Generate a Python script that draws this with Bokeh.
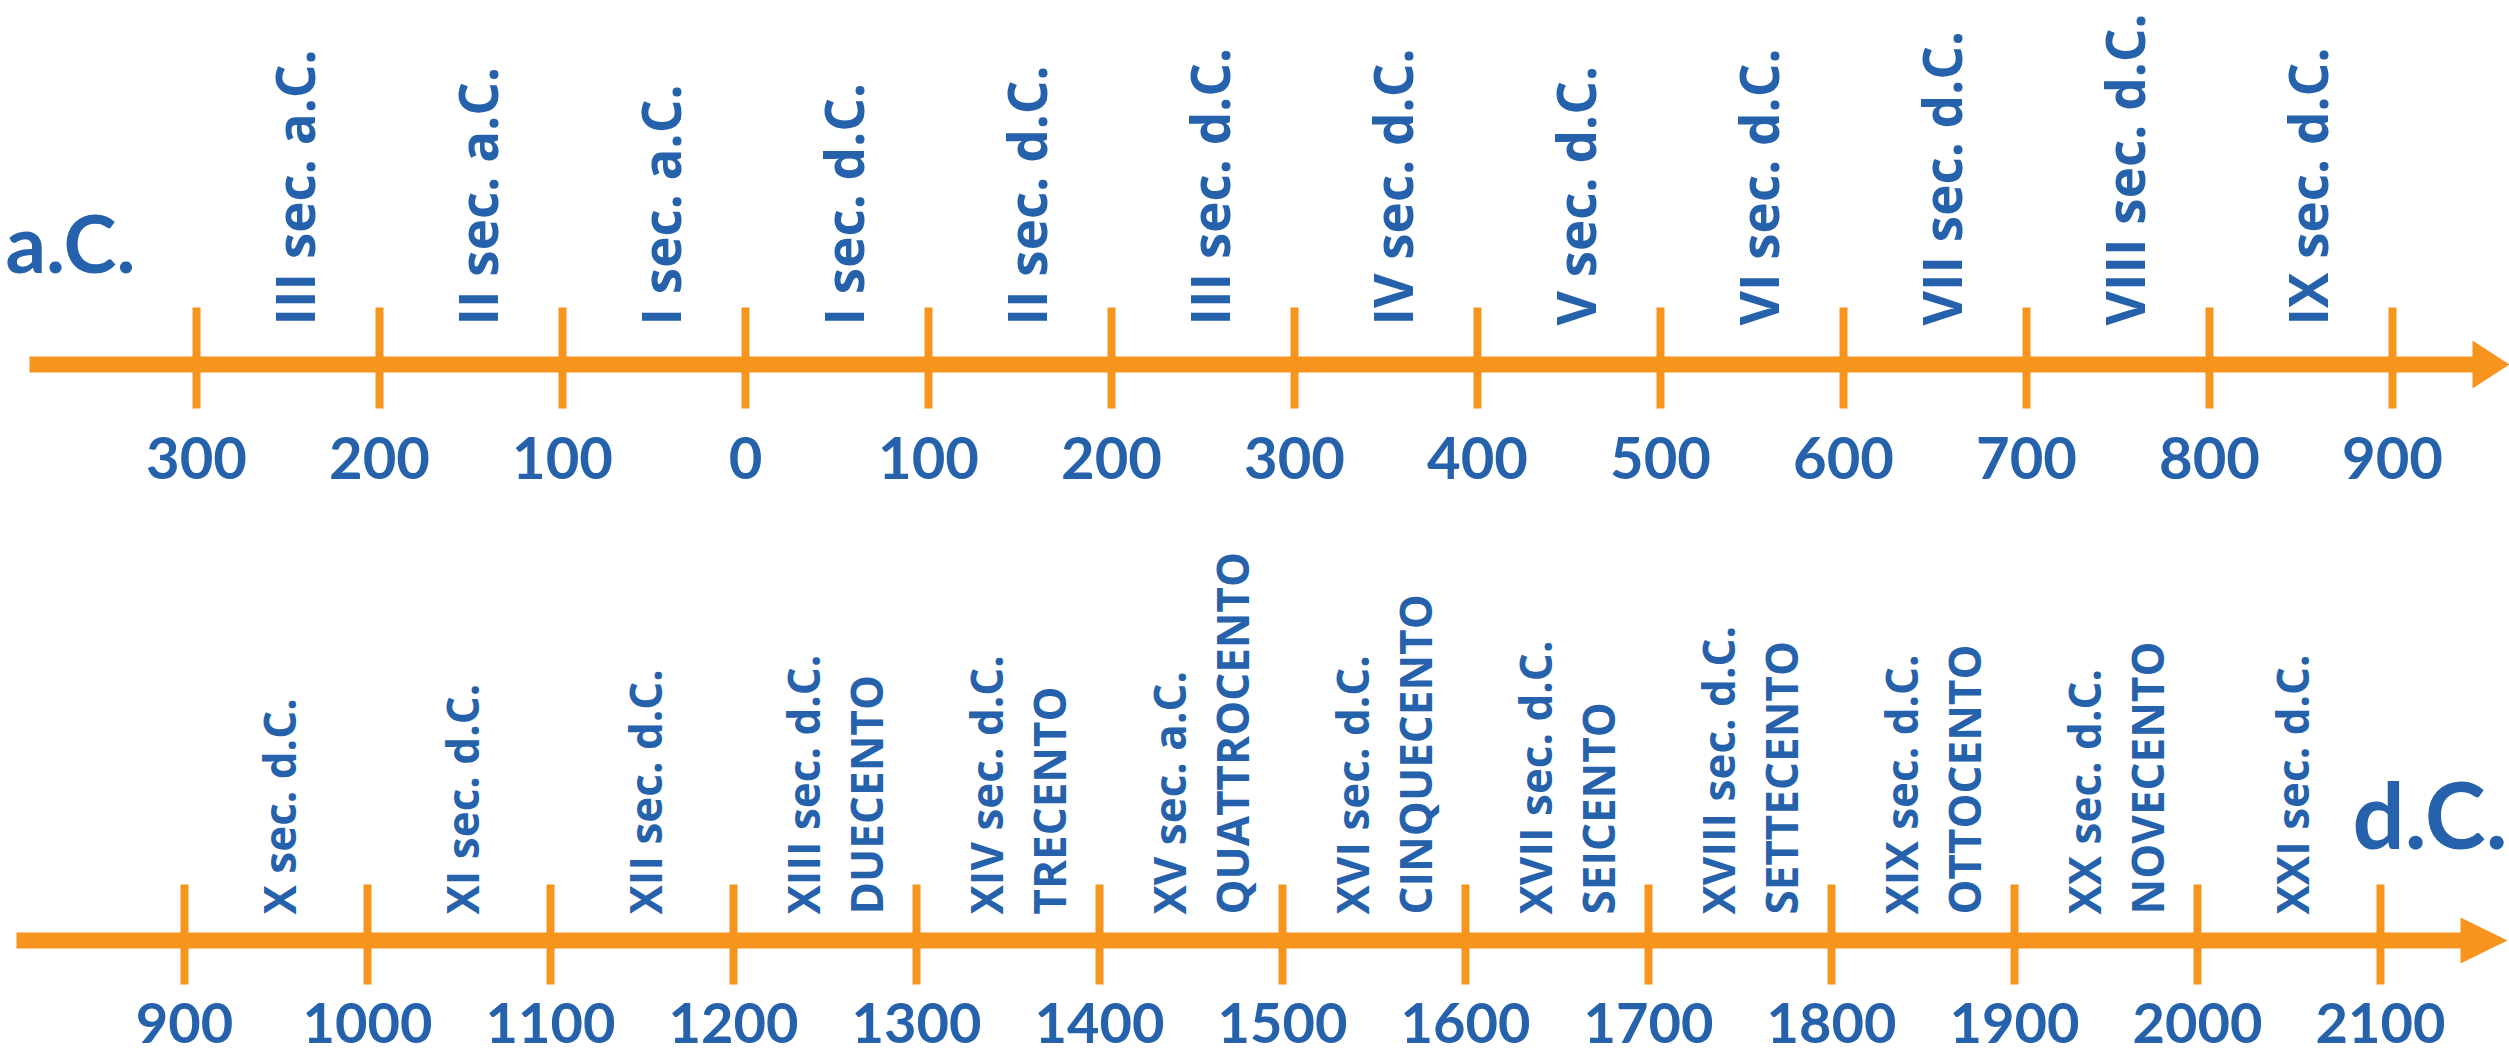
import math
from bokeh.plotting import figure
from bokeh.models import Range1d, ColumnDataSource
from bokeh.core.properties import value
from bokeh.embed import file_html
from bokeh.resources import INLINE

# ---------------- data ----------------
top_years = [-300, -200, -100, 0, 100, 200, 300, 400, 500, 600, 700, 800, 900]
top_tick_labels = ["300", "200", "100", "0", "100", "200", "300", "400", "500",
                   "600", "700", "800", "900"]
top_mid = [-250, -150, -50, 50, 150, 250, 350, 450, 550, 650, 750, 850]
top_labels = ["III sec. a.C.", "II sec. a.C.", "I sec. a.C.", "I sec. d.C.",
              "II sec. d.C.", "III sec. d.C.", "IV sec. d.C.", "V sec. d.C.",
              "VI sec. d.C.", "VII sec. d.C.", "VIII sec. d.C.", "IX sec. d.C."]

bottom_years = [900, 1000, 1100, 1200, 1300, 1400, 1500, 1600, 1700, 1800,
                1900, 2000, 2100]
bottom_tick_labels = ["900", "1000", "1100", "1200", "1300", "1400", "1500",
                      "1600", "1700", "1800", "1900", "2000", "2100"]
bottom_mid = [950, 1050, 1150, 1250, 1350, 1450, 1550, 1650, 1750, 1850, 1950, 2050]
bottom_labels = ["X sec. d.C.", "XI sec. d.C.", "XII sec. d.C.", "XIII sec. d.C.",
                 "XIV sec. d.C.", "XV sec. a.C.", "XVI sec. d.C.", "XVII sec. d.C.",
                 "XVIII sec. d.C.", "XIX sec. d.C.", "XX sec. d.C.", "XXI sec. d.C."]
bottom_names = ["", "", "", "DUECENTO", "TRECENTO", "QUATTROCENTO", "CINQUECENTO",
                "SEICENTO", "SETTECENTO", "OTTOCENTO", "NOVECENTO", ""]

# ---------------- style / layout ----------------
BLUE = "#2662AC"
ORANGE = "#F7941D"
W, H = 2509, 1056
PX_PER_YEAR = 1.83
TOP_REF_YEAR, TOP_REF_PX = -300, 196
BOT_REF_YEAR, BOT_REF_PX = 900, 184


def top_year(px):
    return TOP_REF_YEAR + (px - TOP_REF_PX) / PX_PER_YEAR


def bot_year(px):
    return BOT_REF_YEAR + (px - BOT_REF_PX) / PX_PER_YEAR


p = figure(width=W, height=H, output_backend="svg", toolbar_location=None,
           x_range=Range1d(top_year(0), top_year(W)),
           y_range=Range1d(H, 0), min_border=0)
p.extra_x_ranges = {"bot": Range1d(bot_year(0), bot_year(W))}
p.axis.visible = False
p.xgrid.visible = False
p.ygrid.visible = False
p.outline_line_color = None
p.background_fill_color = "white"
p.border_fill_color = "white"

LABEL_FONT = value("Open Sans")
NUM_FONT = value("Lato")

# ---- top row ----
ty = 364
p.quad(left=[top_year(29)], right=[top_year(2476)], top=[ty - 8], bottom=[ty + 8],
       fill_color=ORANGE, line_color=None)
p.patch(x=[top_year(2472), top_year(2472), top_year(2509)], y=[ty - 24, ty + 24, ty],
        fill_color=ORANGE, line_color=None)
p.segment(x0=top_years, y0=[307] * len(top_years), x1=top_years, y1=[408] * len(top_years),
          line_color=ORANGE, line_width=8)
p.text(x=top_years, y=[457] * len(top_years), text=top_tick_labels,
       text_font=NUM_FONT, text_font_style="bold", text_font_size="58px",
       text_color=BLUE, text_align="center", text_baseline="middle")
p.text(x=top_mid, y=[325] * len(top_mid), text=top_labels, angle=math.pi / 2,
       text_font=LABEL_FONT, text_font_style="bold", text_font_size="53px",
       text_color=BLUE, text_align="left", text_baseline="middle", x_offset=6)
p.text(x=[top_year(5)], y=[241], text=["a.C."], text_font=NUM_FONT,
       text_font_style="bold", text_font_size="80px", text_color=BLUE,
       text_align="left", text_baseline="middle")

# ---- bottom row ----
by = 940
p.quad(left=[bot_year(16)], right=[bot_year(2464)], top=[by - 8], bottom=[by + 8],
       fill_color=ORANGE, line_color=None, x_range_name="bot")
p.patch(x=[bot_year(2460), bot_year(2460), bot_year(2507)], y=[by - 23, by + 23, by],
        fill_color=ORANGE, line_color=None, x_range_name="bot")
p.segment(x0=bottom_years, y0=[884] * len(bottom_years), x1=bottom_years,
          y1=[984] * len(bottom_years), line_color=ORANGE, line_width=8,
          x_range_name="bot")
p.text(x=bottom_years, y=[1022] * len(bottom_years), text=bottom_tick_labels,
       text_font=NUM_FONT, text_font_style="bold", text_font_size="56px",
       text_color=BLUE, text_align="center", text_baseline="middle",
       x_range_name="bot")

first_off = [(-22 if n else 3) for n in bottom_names]
src1 = ColumnDataSource(dict(x=bottom_mid, y=[914] * len(bottom_mid),
                             t=bottom_labels, off=first_off))
p.text(x="x", y="y", text="t", x_offset="off", source=src1, angle=math.pi / 2,
       text_font=LABEL_FONT, text_font_style="bold", text_font_size="44px",
       text_color=BLUE, text_align="left", text_baseline="middle",
       x_range_name="bot")
name_x = [m for m, n in zip(bottom_mid, bottom_names) if n]
name_t = [n for n in bottom_names if n]
p.text(x=name_x, y=[914] * len(name_x), text=name_t, angle=math.pi / 2,
       text_font=LABEL_FONT, text_font_style="bold", text_font_size="44px",
       text_color=BLUE, text_align="left", text_baseline="middle", x_offset=41,
       x_range_name="bot")
p.text(x=[bot_year(2507)], y=[813], text=["d.C."], text_font=NUM_FONT,
       text_font_style="bold", text_font_size="92px", text_color=BLUE,
       text_align="right", text_baseline="middle", x_range_name="bot")

open("out.html", "w").write(file_html(p, INLINE))
